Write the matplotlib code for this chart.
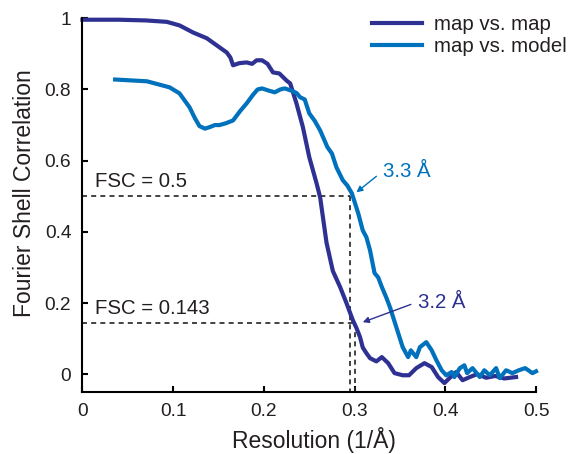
import matplotlib
matplotlib.use("Agg")
import matplotlib.pyplot as plt

plt.rcParams['font.family'] = ['Liberation Sans', 'DejaVu Sans']

# ---- data ----
map_map_x = [0, 0.04, 0.07, 0.093, 0.107, 0.122, 0.137, 0.148, 0.159, 0.163, 0.166,
             0.173, 0.181, 0.187, 0.192, 0.198, 0.204, 0.21, 0.217, 0.225, 0.229,
             0.236, 0.243, 0.25, 0.258, 0.262, 0.269, 0.276, 0.284, 0.291, 0.298,
             0.302, 0.306, 0.309, 0.313, 0.317, 0.324, 0.33, 0.337, 0.344, 0.353,
             0.36, 0.368, 0.377, 0.385, 0.392, 0.399, 0.405, 0.412, 0.419, 0.427,
             0.435, 0.445, 0.455, 0.465, 0.478]
map_map_y = [0.996, 0.996, 0.994, 0.99, 0.98, 0.96, 0.944, 0.924, 0.904, 0.89, 0.868,
             0.874, 0.876, 0.872, 0.882, 0.882, 0.872, 0.848, 0.845, 0.825, 0.817,
             0.76, 0.694, 0.61, 0.537, 0.497, 0.37, 0.29, 0.245, 0.2, 0.152,
             0.13, 0.104, 0.075, 0.059, 0.045, 0.036, 0.048, 0.031, 0.003, -0.003,
             -0.003, 0.017, 0.031, 0.02, -0.008, -0.025, -0.01, 0.006, -0.017, -0.008,
             0.0, -0.01, -0.005, -0.012, -0.008]

map_model_x = [0.036, 0.071, 0.096, 0.107, 0.118, 0.124, 0.129, 0.135, 0.14, 0.146,
               0.151, 0.158, 0.166, 0.174, 0.181, 0.188, 0.193, 0.198, 0.205, 0.212,
               0.218, 0.223, 0.23, 0.236, 0.24, 0.245, 0.25, 0.256, 0.262, 0.27,
               0.275, 0.28, 0.287, 0.292, 0.297, 0.304, 0.309, 0.313, 0.317, 0.322,
               0.326, 0.33, 0.335, 0.339, 0.346, 0.353, 0.359,
               0.362, 0.368, 0.372, 0.379, 0.385, 0.39, 0.396, 0.401, 0.407, 0.41,
               0.416, 0.421, 0.424, 0.43, 0.438, 0.443, 0.449, 0.456, 0.46, 0.467,
               0.474, 0.481, 0.488, 0.496, 0.5]
map_model_y = [0.828, 0.823, 0.806, 0.789, 0.75, 0.719, 0.697, 0.69, 0.694, 0.70,
               0.70, 0.705, 0.713, 0.74, 0.761, 0.785, 0.80, 0.803, 0.797, 0.792,
               0.8, 0.803, 0.797, 0.79, 0.778, 0.772, 0.733, 0.712, 0.685, 0.638,
               0.62, 0.581, 0.545, 0.53, 0.508, 0.452, 0.404, 0.385, 0.348, 0.284,
               0.272, 0.245, 0.215, 0.188, 0.132, 0.076, 0.048,
               0.067, 0.048, 0.076, 0.09, 0.067, 0.04, 0.011, -0.003, 0.006, -0.008,
               0.017, 0.025, 0.003, 0.017, -0.008, 0.011, -0.003, 0.017, -0.011, 0.011,
               0.003, 0.011, 0.017, 0.003, 0.008]

fsc_levels = [0.5, 0.143]
fsc_labels = ["FSC = 0.5", "FSC = 0.143"]
crossing_x = [0.2946, 0.300]
res_labels = ["3.3 Å", "3.2 Å"]
res_points = [(0.302, 0.511), (0.309, 0.146)]
res_text_pos = [(0.331, 0.553), (0.3695, 0.185)]
res_arrow_tail = [(0.324, 0.556), (0.362, 0.196)]

x_ticks = [0, 0.1, 0.2, 0.3, 0.4, 0.5]
x_tick_labels = ["0", "0.1", "0.2", "0.3", "0.4", "0.5"]
y_ticks = [0, 0.2, 0.4, 0.6, 0.8, 1.0]
y_tick_labels = ["0", "0.2", "0.4", "0.6", "0.8", "1"]

navy = "#2E3192"
light = "#0071BC"
textc = "#231F20"

fig = plt.figure(figsize=(5.72, 4.54), dpi=100)
ax = fig.add_axes([0.1442, 0.1366, 0.7929, 0.8231])

ymin = -0.05
for lvl, cx, lab in zip(fsc_levels, crossing_x, fsc_labels):
    ax.plot([0, cx], [lvl, lvl], color="#222222", lw=1.2, linestyle=(0, (3, 2.5)))
    ax.plot([cx, cx], [lvl, ymin], color="#222222", lw=1.2, linestyle=(0, (3, 2.5)))
    ax.text(0.0138, lvl + 0.025, lab, fontsize=14.7, color=textc, ha="left", va="baseline")

ax.plot(map_map_x, map_map_y, color=navy, lw=3.0, label="map vs. map", clip_on=False,
        solid_joinstyle="round")
ax.plot(map_model_x, map_model_y, color=light, lw=3.0, label="map vs. model", clip_on=False,
        solid_joinstyle="round")

for lab, pt, tp, tail, col in zip(res_labels, res_points, res_text_pos, res_arrow_tail, [light, navy]):
    ax.text(tp[0], tp[1], lab, fontsize=14.7, color=col, ha="left", va="baseline")
    ax.annotate("", xy=pt, xytext=tail,
                arrowprops=dict(arrowstyle="-|>", color=col, lw=1.0,
                                mutation_scale=9, shrinkA=0, shrinkB=0))

ax.set_xlim(0, 0.5)
ax.set_ylim(ymin, 1.0)
ax.set_xticks(x_ticks)
ax.set_xticklabels(x_tick_labels)
ax.set_yticks(y_ticks)
ax.set_yticklabels(y_tick_labels)
ax.tick_params(direction="in", length=4, width=1.5, labelsize=13.8, colors=textc, pad=8)
ax.tick_params(color="#000000")
for s in ["top", "right"]:
    ax.spines[s].set_visible(False)
for s in ["left", "bottom"]:
    ax.spines[s].set_linewidth(1.5)
    ax.spines[s].set_color("#000000")

ax.set_xlabel("Resolution (1/Å)", fontsize=16.5, color=textc)
ax.set_ylabel("Fourier Shell Correlation", fontsize=16.5, color=textc)
ax.xaxis.set_label_coords(0.51, -0.093)
ax.yaxis.set_label_coords(-0.103, 0.533)

leg = ax.legend(loc="upper left", bbox_to_anchor=(0.639, 1.009), frameon=False,
                fontsize=14.7, handlelength=2.45, handletextpad=0.55,
                labelspacing=0.15, borderpad=0, borderaxespad=0)
for t in leg.get_texts():
    t.set_color(textc)

fig.savefig("out.png", dpi=100)
